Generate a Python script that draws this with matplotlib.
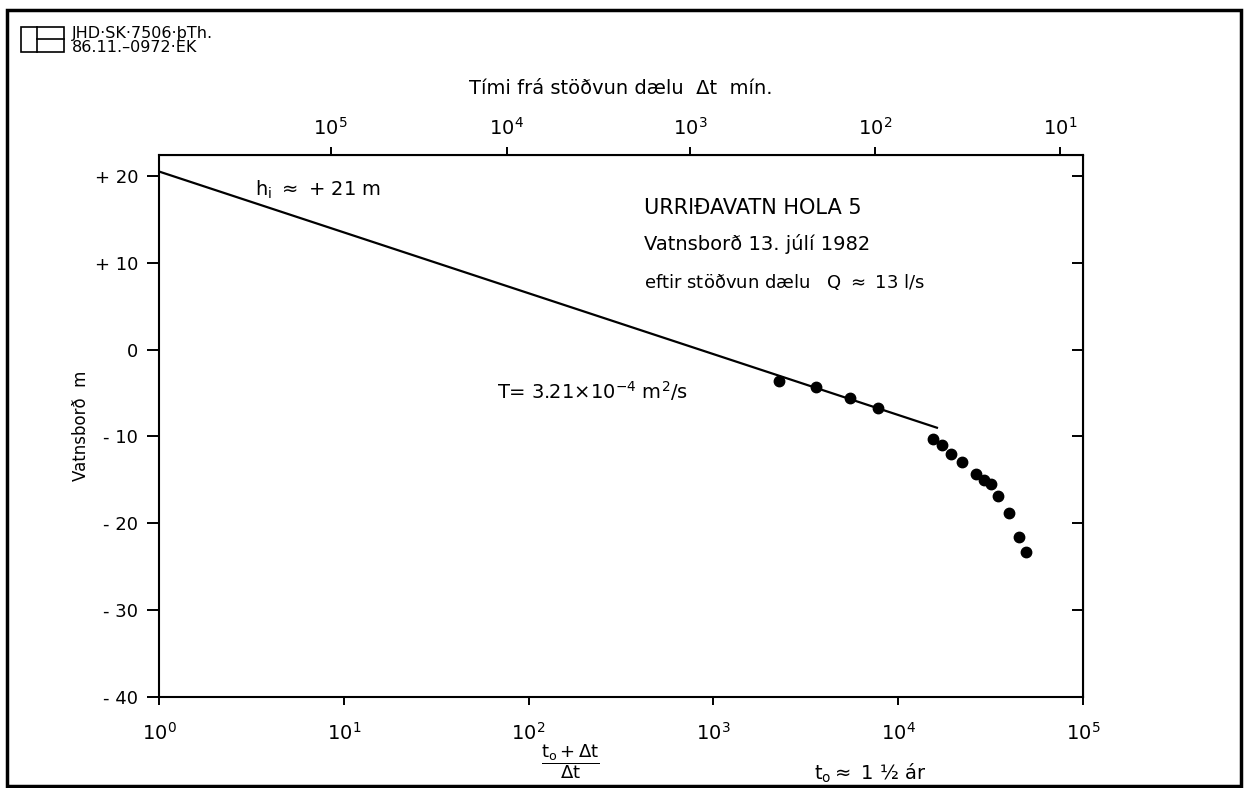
import numpy as np
import matplotlib.pyplot as plt
from matplotlib.patches import Rectangle
from matplotlib.lines import Line2D

# recovery data, (t0 + dt)/dt  vs  water level (m)
ratio = [2265, 3590, 5485, 7780, 15420, 17260, 19310, 22150, 26370,
         29130, 31780, 34670, 39800, 45050, 49170]
level = [-3.6, -4.3, -5.6, -6.7, -10.3, -11.0, -12.0, -12.9, -14.3,
         -15.0, -15.5, -16.9, -18.8, -21.6, -23.3]

# fitted straight line (Horner)
fit_x = [1, 16200]
fit_y = [20.5, -9.0]

y_ticks = [20, 10, 0, -10, -20, -30, -40]
y_labels = ['+ 20', '+ 10', '0', '- 10', '- 20', '- 30', '- 40']
x_exp = [0, 1, 2, 3, 4, 5]
dt_exp = [5, 4, 3, 2, 1]          # top axis, minutes after pump stop
t0 = 750000.0                     # ~1.5 years in minutes

plt.rcParams['font.family'] = 'DejaVu Sans'

fig = plt.figure(figsize=(12.46, 7.88), dpi=100)
ax = fig.add_axes([0.1276, 0.1155, 0.7416, 0.6878])

ax.plot(fit_x, fit_y, color='black', linewidth=1.6)
ax.plot(ratio, level, 'o', color='black', markersize=7.5)

ax.set_xscale('log')
ax.set_xlim(1, 1e5)
ax.set_ylim(-40, 22.4)
ax.minorticks_off()

ax.set_xticks([10.0 ** e for e in x_exp])
ax.set_xticklabels([r'$10^{%d}$' % e for e in x_exp], fontsize=14)
ax.set_yticks(y_ticks)
ax.set_yticklabels(y_labels, fontsize=13)
ax.tick_params(axis='x', direction='out', length=6, width=1.4, pad=12)
ax.tick_params(axis='y', direction='out', length=9, width=1.4, pad=6)
for sp in ax.spines.values():
    sp.set_linewidth(1.5)

# right side ticks point into the plot
sec_r = ax.secondary_yaxis('right')
sec_r.set_yticks(y_ticks)
sec_r.set_yticklabels([])
sec_r.tick_params(direction='in', length=8, width=1.4)

# top axis: time since pump stop
top = ax.secondary_xaxis('top')
top.set_xticks([1 + t0 / 10.0 ** e for e in dt_exp])
top.set_xticklabels([r'$10^{%d}$' % e for e in dt_exp], fontsize=14)
top.xaxis.set_minor_locator(plt.NullLocator())
top.tick_params(direction='out', length=6, width=1.4, pad=6)
top.set_xlabel('Tími frá stöðvun dælu  Δt  mín.', fontsize=14, labelpad=16)

ax.set_ylabel('Vatnsborð  m', fontsize=12, labelpad=3)

# annotations
ax.text(0.104, 0.935, r'h$_{\mathrm{i}}$ $\approx$ + 21 m', transform=ax.transAxes,
        fontsize=14, va='center')
ax.text(0.525, 0.902, 'URRIÐAVATN HOLA 5', transform=ax.transAxes,
        fontsize=15, va='center')
ax.text(0.525, 0.836, 'Vatnsborð 13. júlí 1982', transform=ax.transAxes,
        fontsize=14, va='center')
ax.text(0.525, 0.765, r'eftir stöðvun dælu   Q $\approx$ 13 l/s',
        transform=ax.transAxes, fontsize=13, va='center')
ax.text(0.366, 0.565, r'T= 3.21$\times$10$^{-4}$ m$^2$/s', transform=ax.transAxes,
        fontsize=14, va='center')

# bottom labels
fig.text(0.4575, 0.034, r'$\mathdefault{\dfrac{t_o + \Delta t}{\Delta t}}$',
         fontsize=13, ha='center', va='center')
fig.text(0.653, 0.0185, r't$_\mathrm{o}$$\approx$ 1 ½ ár', fontsize=14,
         ha='left', va='center')

# outer frame and drawing stamp
fig.patches.append(Rectangle((0.006, 0.003), 0.990, 0.984, transform=fig.transFigure,
                             fill=False, edgecolor='black', linewidth=2.5))
fig.patches.append(Rectangle((0.017, 0.934), 0.034, 0.032, transform=fig.transFigure,
                             fill=False, edgecolor='black', linewidth=1.2))
fig.add_artist(Line2D([0.030, 0.030], [0.934, 0.966], transform=fig.transFigure,
                      color='black', linewidth=1.2))
fig.add_artist(Line2D([0.030, 0.051], [0.950, 0.950], transform=fig.transFigure,
                      color='black', linewidth=1.2))
fig.text(0.058, 0.958, 'JHD·SK·7506·þTh.', fontsize=11.5, va='center')
fig.text(0.058, 0.940, '86.11.–0972·EK', fontsize=11.5, va='center')

fig.savefig('out.png', dpi=100)
